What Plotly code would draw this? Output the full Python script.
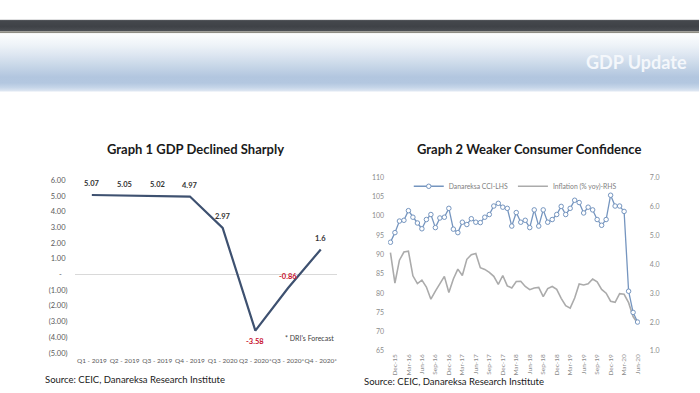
import plotly.graph_objects as go
import pandas as pd
import base64

# ---------------- Graph 1 data ----------------
quarters = ["Q1 - 2019", "Q2 - 2019", "Q3 - 2019", "Q4 - 2019",
            "Q1 - 2020", "Q2 - 2020*", "Q3 - 2020*", "Q4 - 2020*"]
gdp_growth = [5.07, 5.05, 5.02, 4.97, 2.97, -3.58, -0.86, 1.6]
gdp_labels = ["5.07", "5.05", "5.02", "4.97", "2.97", "-3.58", "-0.86", "1.6"]
gdp_tick_vals = [-5, -4, -3, -2, -1, 0, 1, 2, 3, 4, 5, 6]
gdp_tick_text = ["(5.00)", "(4.00)", "(3.00)", "(2.00)", "(1.00)", "-\u00a0\u00a0\u00a0",
                 "1.00\u00a0", "2.00\u00a0", "3.00\u00a0", "4.00\u00a0", "5.00\u00a0", "6.00\u00a0"]

# ---------------- Graph 2 data ----------------
months = list(pd.date_range("2015-11-01", "2020-06-01", freq="MS").strftime("%b-%y"))
month_ticks = months[1::3]
cci = [93.2, 95.7, 98.7, 98.9, 101.4, 99.7, 98.2, 96.7, 99.1, 100.4,
       97.0, 99.5, 99.7, 102.0, 96.6, 95.7, 98.4, 97.8, 99.3, 98.4,
       98.3, 99.7, 100.4, 102.6, 103.3, 102.3, 102.0, 97.4, 100.9, 98.4,
       98.9, 97.0, 101.6, 97.4, 101.6, 98.4, 99.1, 100.4, 102.5, 100.4,
       102.0, 104.1, 103.5, 100.8, 102.3, 101.6, 99.1, 97.6, 99.1, 105.4,
       102.6, 102.6, 101.2, 80.5, 75.0, 72.5]
inflation = [4.40, 3.35,
             4.14, 4.42, 4.45, 3.60, 3.33, 3.45, 3.21, 2.79, 3.07, 3.31, 3.58, 3.02,
             3.49, 3.83, 3.61, 4.17, 4.33, 4.37, 3.88, 3.82, 3.72, 3.58, 3.30, 3.61,
             3.25, 3.18, 3.40, 3.41, 3.23, 3.12, 3.18, 3.20, 2.88, 3.16, 3.23, 3.13,
             2.82, 2.57, 2.48, 2.83, 3.32, 3.28, 3.32, 3.49, 3.39, 3.13, 3.00, 2.72,
             2.68, 2.98, 2.96, 2.67, 2.19, 1.96]

W, H = 700, 393
FONT = "Lato"


def px(x):
    return x / W


def py(y):
    return 1 - y / H


fig = go.Figure()

# Graph 1 line
fig.add_trace(go.Scatter(x=quarters, y=gdp_growth, mode="lines", xaxis="x", yaxis="y",
                         line=dict(color="#3E5170", width=2.2), showlegend=False,
                         hoverinfo="x+y"))

# Graph 2 lines
fig.add_trace(go.Scatter(x=months, y=cci, mode="lines+markers", xaxis="x2", yaxis="y3",
                         name="Danareksa CCI-LHS",
                         line=dict(color="#7595BF", width=1.3),
                         marker=dict(size=4.5, color="white", line=dict(color="#7595BF", width=1))))
fig.add_trace(go.Scatter(x=months, y=inflation, mode="lines", xaxis="x2", yaxis="y2",
                         name="Inflation (% yoy)-RHS",
                         line=dict(color="#ABABAB", width=1.6)))

# ---------------- header decoration (SVG gradient image) ----------------
HEADER_TOP, HEADER_BOTTOM = 15, 89
svg = """<svg xmlns='http://www.w3.org/2000/svg' width='700' height='74' viewBox='0 0 700 74' preserveAspectRatio='none'>
<defs>
<linearGradient id='d' x1='0' y1='0' x2='0' y2='1'>
<stop offset='0' stop-color='#5b5e63'/><stop offset='0.15' stop-color='#44474c'/>
<stop offset='0.6' stop-color='#3f4247'/><stop offset='1' stop-color='#4d5055'/>
</linearGradient>
<linearGradient id='b' x1='0' y1='0' x2='0' y2='1'>
<stop offset='0' stop-color='#fdfeff'/><stop offset='0.2' stop-color='#eef3f8'/>
<stop offset='0.37' stop-color='#dde6f1'/><stop offset='0.55' stop-color='#c8d7e8'/>
<stop offset='0.75' stop-color='#b2c6df'/><stop offset='0.85' stop-color='#b3c7e0'/>
<stop offset='0.93' stop-color='#c6d6e9'/><stop offset='1' stop-color='#e3eaf4'/>
</linearGradient>
</defs>
<rect x='0' y='0' width='700' height='12' fill='url(#d)'/>
<rect x='0' y='12' width='700' height='2' fill='#8e8d84'/>
<rect x='0' y='14' width='700' height='60' fill='url(#b)'/>
</svg>"""
header_src = "data:image/svg+xml;base64," + base64.b64encode(svg.encode()).decode()

annotations = []
annotations.append(dict(text="<b>GDP Update</b>", xref="paper", yref="paper",
                        x=px(690), y=py(58), xanchor="right", yanchor="middle",
                        showarrow=False, font=dict(family=FONT, size=18, color="#f4f7fb")))
annotations.append(dict(text="<b>Graph 1 GDP Declined Sharply</b>", xref="paper", yref="paper",
                        x=px(196), y=py(148), xanchor="center", yanchor="middle",
                        showarrow=False, font=dict(family=FONT, size=13, color="#1a1a1a")))
annotations.append(dict(text="<b>Graph 2 Weaker Consumer Confidence</b>", xref="paper", yref="paper",
                        x=px(530), y=py(148), xanchor="center", yanchor="middle",
                        showarrow=False, font=dict(family=FONT, size=13, color="#1a1a1a")))
annotations.append(dict(text="Source: CEIC, Danareksa Research Institute", xref="paper", yref="paper",
                        x=px(43), y=py(384), xanchor="left", yanchor="middle",
                        showarrow=False, font=dict(family=FONT, size=9.5, color="#1a1a1a")))
annotations.append(dict(text="Source: CEIC, Danareksa Research Institute", xref="paper", yref="paper",
                        x=px(363), y=py(386), xanchor="left", yanchor="middle",
                        showarrow=False, font=dict(family=FONT, size=9.5, color="#1a1a1a")))

# GDP data labels
trough = min(gdp_growth)
for q, v, lab in zip(quarters, gdp_growth, gdp_labels):
    below = v == trough
    annotations.append(dict(text="<b>%s</b>" % lab, xref="x", yref="y", x=q, y=v,
                            yshift=-11 if below else 11, xanchor="center", yanchor="middle",
                            showarrow=False,
                            font=dict(family=FONT, size=7.5,
                                      color="#C8102E" if v < 0 else "#333333")))
annotations.append(dict(text="* DRI's Forecast", xref="paper", yref="paper",
                        x=px(310), y=py(342), xanchor="center", yanchor="middle",
                        showarrow=False, font=dict(family=FONT, size=7, color="#404040")))

fig.update_layout(
    width=W, height=H,
    margin=dict(l=0, r=0, t=0, b=0),
    paper_bgcolor="white", plot_bgcolor="rgba(0,0,0,0)",
    font=dict(family=FONT),
    images=[dict(source=header_src, xref="paper", yref="paper", x=0, y=py(HEADER_TOP),
                 sizex=1, sizey=(HEADER_BOTTOM - HEADER_TOP) / H, xanchor="left", yanchor="top",
                 sizing="stretch", layer="below")],
    annotations=annotations,
    showlegend=True,
    legend=dict(orientation="h", x=px(516), xanchor="center", y=py(186), yanchor="middle",
                font=dict(family=FONT, size=6.8, color="#808080"),
                bgcolor="rgba(0,0,0,0)", itemwidth=30, tracegroupgap=0),
    xaxis=dict(domain=[px(75.6), px(337.6)], type="category", range=[-0.5, 7.5],
               showgrid=False, showline=False, zeroline=False, ticks="", tickangle=0,
               tickfont=dict(family=FONT, size=6.5, color="#595959"),
               ticklabelstandoff=3, anchor="y", fixedrange=True),
    yaxis=dict(domain=[py(357), py(180)], range=[-5, 6], tickvals=gdp_tick_vals,
               ticktext=gdp_tick_text, showgrid=False, showline=False, zeroline=True,
               zerolinecolor="#D9D9D9", zerolinewidth=1, ticks="",
               tickfont=dict(family=FONT, size=7.5, color="#595959"),
               ticklabelstandoff=7, anchor="x", fixedrange=True),
    xaxis2=dict(domain=[px(388.75), px(640.75)], type="category", range=[-0.5, 55.5],
                tickvals=month_ticks, ticktext=month_ticks, tickangle=-90,
                showgrid=False, showline=False, zeroline=False, ticks="",
                tickfont=dict(family=FONT, size=6.5, color="#8c8c8c"),
                ticklabelstandoff=1, anchor="y2", fixedrange=True),
    yaxis2=dict(domain=[py(355), py(177)], range=[1, 7], dtick=1, tickformat=".1f",
                side="right", anchor="x2", showgrid=False, showline=False, zeroline=False,
                ticks="", tickfont=dict(family=FONT, size=7, color="#8c8c8c"),
                ticklabelstandoff=9, fixedrange=True),
    yaxis3=dict(overlaying="y2", side="left", anchor="x2", range=[65, 110], dtick=5,
                showgrid=False, showline=False, zeroline=False, ticks="",
                tickfont=dict(family=FONT, size=7, color="#8c8c8c"),
                ticklabelstandoff=3, fixedrange=True),
)

fig.write_html("out.html", config={"displayModeBar": False},
               post_script="document.body.style.margin='0';document.body.style.overflow='hidden';")
